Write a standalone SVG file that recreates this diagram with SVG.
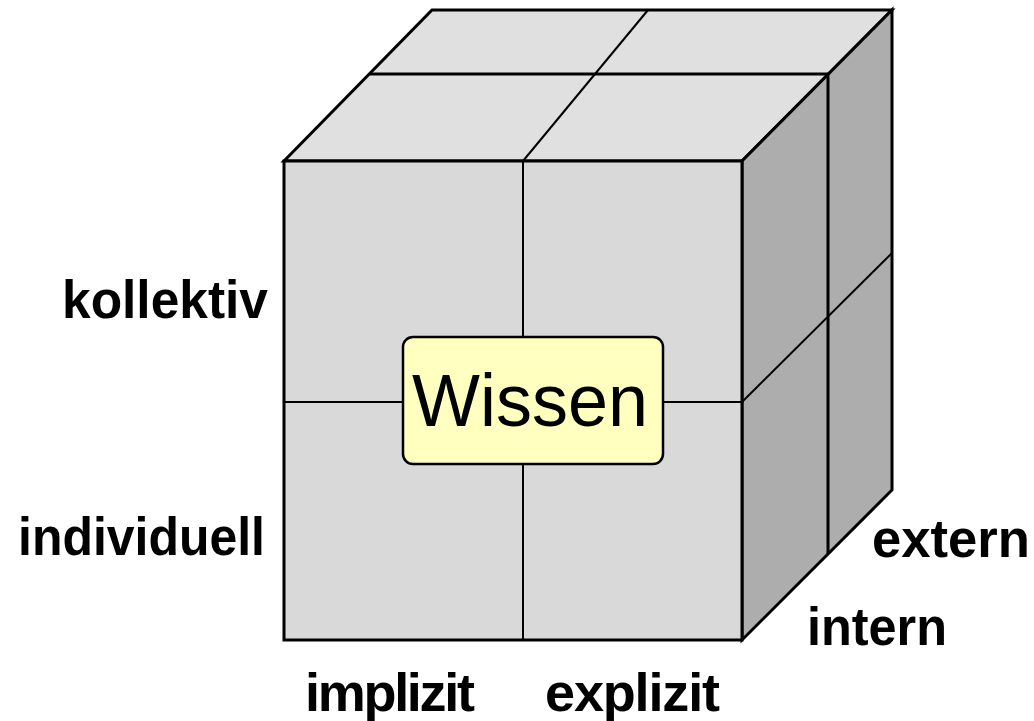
<svg xmlns="http://www.w3.org/2000/svg" width="1034" height="721" viewBox="0 0 1034 721">
<style>
.face{stroke:#000;stroke-width:3;stroke-linejoin:miter}
.inner{stroke:#000;stroke-width:2;fill:none}
.lbl{font-family:"Liberation Sans",Arial,sans-serif;font-weight:bold;font-size:54px;fill:#000}
</style>
<rect width="1034" height="721" fill="#fff"/>
<g id="cube">
<polygon class="face" points="284,161 432,10 892,10 742,161" fill="#E0E0E0"/>
<polygon class="face" points="742,161 892,10 892,490 742,640" fill="#ADADAD"/>
<rect class="face" x="284" y="161" width="458" height="479" fill="#D9D9D9"/>
</g>
<g id="connectors">
<line class="inner" x1="370" y1="74" x2="828" y2="74" style="stroke-width:3"/>
<line class="inner" x1="523" y1="161" x2="648" y2="10"/>
<line class="inner" x1="523" y1="161" x2="523" y2="640"/>
<line class="inner" x1="284" y1="402" x2="742" y2="402"/>
<line class="inner" x1="828" y1="74" x2="828" y2="554" style="stroke-width:3"/>
<line class="inner" x1="742" y1="402" x2="892" y2="253"/>
</g>
<g id="wissen">
<rect x="403" y="337" width="260" height="127" rx="10" fill="#FFFFC0" stroke="#000" stroke-width="2.5"/>
<text x="412" y="426" font-family="'Liberation Sans',Arial,sans-serif" font-size="74" textLength="236" lengthAdjust="spacingAndGlyphs">Wissen</text>
</g>
<g id="labels">
<text class="lbl" x="62" y="318" textLength="206" lengthAdjust="spacingAndGlyphs">kollektiv</text>
<text class="lbl" x="18" y="555" textLength="247" lengthAdjust="spacingAndGlyphs">individuell</text>
<text class="lbl" x="305" y="711" textLength="170" lengthAdjust="spacing">implizit</text>
<text class="lbl" x="545" y="711" textLength="175" lengthAdjust="spacing">explizit</text>
<text class="lbl" x="872" y="557" textLength="158" lengthAdjust="spacingAndGlyphs">extern</text>
<text class="lbl" x="807" y="645" textLength="140" lengthAdjust="spacingAndGlyphs">intern</text>
</g>
</svg>
